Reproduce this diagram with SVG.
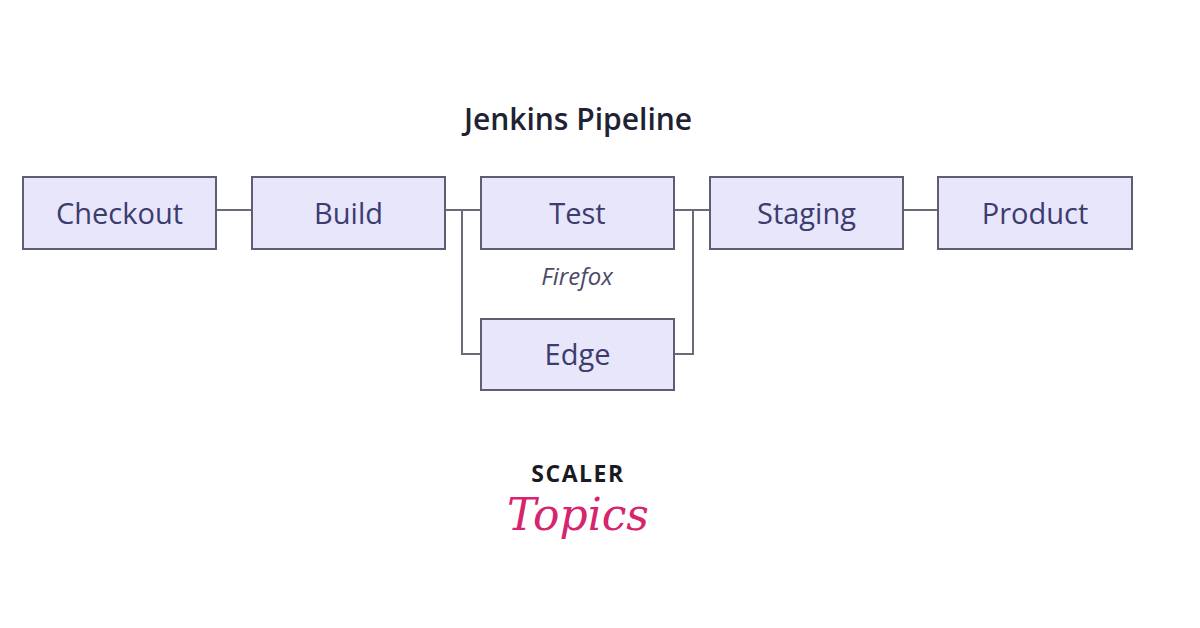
<svg xmlns="http://www.w3.org/2000/svg" width="1200" height="628" viewBox="0 0 1200 628">
<style>
.b{fill:#e8e6fb;stroke:#5e5e72;stroke-width:2}
.t{font-family:"Open Sans","Noto Sans",sans-serif;font-size:29px;fill:#3c3c6e;text-anchor:middle}
.c{fill:none;stroke:#6a6a78;stroke-width:2}
</style>
<rect width="1200" height="628" fill="#fff"/>
<text x="578" y="130" font-family="Open Sans,sans-serif" font-weight="600" font-size="30" fill="#1e2233" text-anchor="middle">Jenkins Pipeline</text>
<g id="connectors">
<path class="c" d="M216 210H252M445 210H481M462 210V354H481M674 210H710M693 210V354H674M903 210H938"/>
</g>
<g id="checkout"><rect class="b" x="23" y="177" width="193" height="72"/><text class="t" x="119.5" y="224">Checkout</text></g>
<g id="build"><rect class="b" x="252" y="177" width="193" height="72"/><text class="t" x="348.5" y="224">Build</text></g>
<g id="test"><rect class="b" x="481" y="177" width="193" height="72"/><text class="t" x="577.5" y="224">Test</text></g>
<g id="staging"><rect class="b" x="710" y="177" width="193" height="72"/><text class="t" x="806.5" y="224">Staging</text></g>
<g id="product"><rect class="b" x="938" y="177" width="194" height="72"/><text class="t" x="1035" y="224">Product</text></g>
<g id="edge"><rect class="b" x="481" y="319" width="193" height="71"/><text class="t" x="577.5" y="365">Edge</text></g>
<text x="577" y="285" font-family="Open Sans,sans-serif" font-style="italic" font-size="24" fill="#4a4a6a" text-anchor="middle">Firefox</text>
<text x="578" y="482" font-family="Open Sans,sans-serif" font-weight="700" font-size="23" letter-spacing="1.5" fill="#1a1a24" text-anchor="middle">SCALER</text>
<text x="578" y="530" font-family="DejaVu Serif,serif" font-style="italic" font-size="44" fill="#d6246e" text-anchor="middle">Topics</text>
</svg>
